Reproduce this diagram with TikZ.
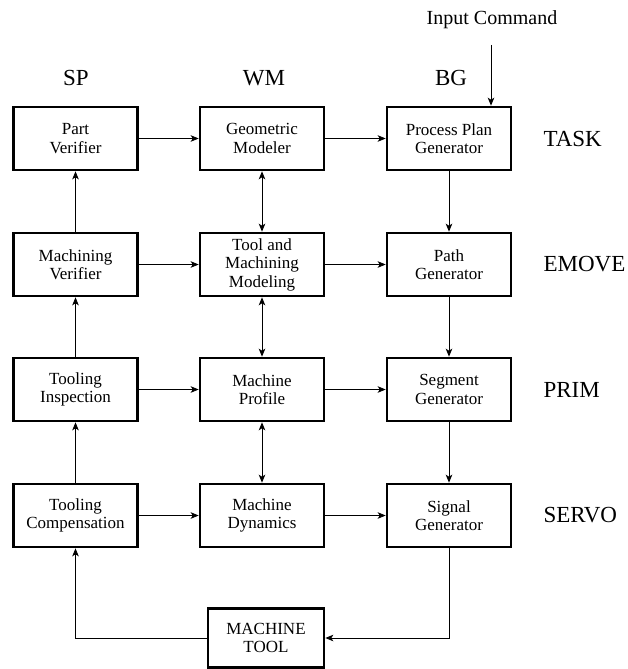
\documentclass[tikz,border=0pt]{standalone}
\usepackage{fontspec}
\setmainfont{Liberation Serif}
\usetikzlibrary{arrows.meta}
\begin{document}
\begin{tikzpicture}[x=1pt,y=-1pt,
 blk/.style={draw, line width=2.6pt, minimum width=124pt, minimum height=63pt, inner sep=0pt, align=center, font=\fontsize{17}{18.5}\selectfont},
 lbl/.style={font=\fontsize{23}{26}\selectfont},
 conn/.style={line width=0.9pt, -{Stealth[length=8pt,width=6.5pt,inset=2pt]}},
 dconn/.style={line width=0.9pt, {Stealth[length=8pt,width=6.5pt,inset=2pt]}-{Stealth[length=8pt,width=6.5pt,inset=2pt]}}]
\useasboundingbox (0,0) rectangle (628,669);
% column labels
\node[lbl] (sp) at (76,78) {SP};
\node[lbl] (wm) at (264,78) {WM};
\node[lbl] (bg) at (451,78) {BG};
\node[font=\fontsize{20}{22}\selectfont] (input) at (492,20) {Input Command};
% row labels
\node[lbl, anchor=west] (task) at (540,138.5) {TASK};
\node[lbl, anchor=west] (emove) at (540,264.5) {EMOVE};
\node[lbl, anchor=west] (prim) at (540,389.5) {PRIM};
\node[lbl, anchor=west] (servo) at (540,515.5) {SERVO};
% boxes
\node[blk] (pv) at (75.5,138.5) {Part\\Verifier};
\node[blk] (gm) at (262,138.5) {Geometric\\Modeler};
\node[blk] (pp) at (449,138.5) {Process Plan\\Generator};
\node[blk] (mv) at (75.5,264.5) {Machining\\Verifier};
\node[blk] (tm) at (262,264.5) {Tool and\\Machining\\Modeling};
\node[blk] (pg) at (449,264.5) {Path\\Generator};
\node[blk] (ti) at (75.5,389.5) {Tooling\\Inspection};
\node[blk] (mp) at (262,389.5) {Machine\\Profile};
\node[blk] (sg1) at (449,389.5) {Segment\\Generator};
\node[blk] (tc) at (75.5,515.5) {Tooling\\Compensation};
\node[blk] (md) at (262,515.5) {Machine\\Dynamics};
\node[blk] (sg) at (449,515.5) {Signal\\Generator};
\node[blk, minimum width=116pt, minimum height=59pt] (mt) at (266,638) {MACHINE\\TOOL};
% input
\coordinate (ic) at (491,45);
\draw[conn] (ic) -- (ic |- pp.north);
% horizontal
\draw[conn] (pv) -- (gm);
\draw[conn] (gm) -- (pp);
\draw[conn] (mv) -- (tm);
\draw[conn] (tm) -- (pg);
\draw[conn] (ti) -- (mp);
\draw[conn] (mp) -- (sg1);
\draw[conn] (tc) -- (md);
\draw[conn] (md) -- (sg);
% SP column up
\draw[conn] (mv) -- (pv);
\draw[conn] (ti) -- (mv);
\draw[conn] (tc) -- (ti);
% WM column double
\draw[dconn] (gm) -- (tm);
\draw[dconn] (tm) -- (mp);
\draw[dconn] (mp) -- (md);
% BG column down
\draw[conn] (pp) -- (pg);
\draw[conn] (pg) -- (sg1);
\draw[conn] (sg1) -- (sg);
% feedback loop
\draw[conn] (sg.south) |- (mt.east);
\draw[conn] (mt.west) -| (tc.south);
\end{tikzpicture}
\end{document}
